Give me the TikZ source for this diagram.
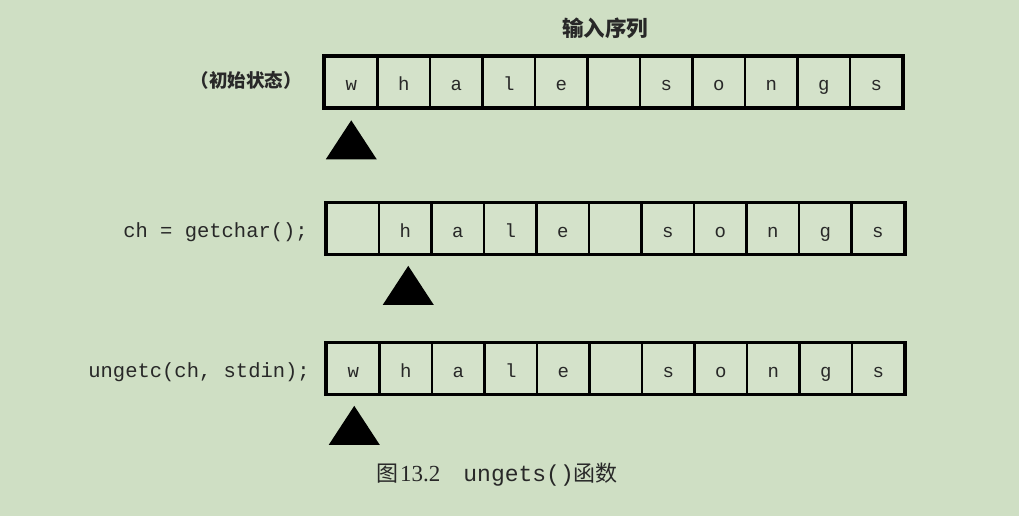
\documentclass[tikz,border=0pt]{standalone}
\usepackage{fontspec}
\setmainfont{Liberation Serif}
\setmonofont{Liberation Mono}
\newfontfamily\cjk{Noto Sans CJK SC}
\usetikzlibrary{calc}
\definecolor{bg}{RGB}{207,223,196}
\definecolor{cellbg}{RGB}{212,226,202}
\definecolor{ink}{RGB}{40,40,40}
\begin{document}
\begin{tikzpicture}[x=1pt,y=-1pt,
  cell/.style={draw=black, line width=2.2pt, fill=cellbg, minimum width=52.5pt, minimum height=50.5pt,
    inner sep=0pt, text=ink, font=\ttfamily\fontsize{19}{19}\selectfont, text height=17pt, text depth=0pt},
  frame/.style={draw=black, line width=3pt},
  code/.style={anchor=east, inner sep=0pt, text=ink, font=\ttfamily\fontsize{20.5}{20}\selectfont},
  cjklabel/.style={inner sep=0pt, text=ink, font=\cjk\bfseries\fontsize{18.5}{19}\selectfont},
  pointer/.style={fill=black}
]
\fill[bg] (0,0) rectangle (1019,516);
\useasboundingbox (0,0) rectangle (1019,516);

% title
\node[cjklabel, font=\cjk\bfseries\fontsize{21.5}{22}\selectfont] (title) at (605,28) {输入序列};

% row 1
\foreach \ch [count=\i] in {w,h,a,l,e,{},s,o,n,g,s}
  \node[cell] (a\i) at (298.75+52.5*\i, 82) {\ch};
\draw[frame] (a1.north west) rectangle (a11.south east);
\node[cjklabel, anchor=east] (lab1) at (302,80) {（初始状态）};
\coordinate (p1) at ($(a1.south)+(0,12)$);
\fill[pointer] (p1) -- ++(25.5,39) -- ++(-51,0) -- cycle;

% row 2
\foreach \ch [count=\i] in {{},h,a,l,e,{},s,o,n,g,s}
  \node[cell] (b\i) at (300.25+52.5*\i, 228.5) {\ch};
\draw[frame] (b1.north west) rectangle (b11.south east);
\node[code] (lab2) at (308,232) {ch = getchar();};
\coordinate (p2) at ($(b2.south)+(3,11)$);
\fill[pointer] (p2) -- ++(25.5,39) -- ++(-51,0) -- cycle;

% row 3
\foreach \ch [count=\i] in {w,h,a,l,e,{},s,o,n,g,s}
  \node[cell] (c\i) at (300.75+52.5*\i, 368.5) {\ch};
\draw[frame] (c1.north west) rectangle (c11.south east);
\node[code] (lab3) at (310,372) {ungetc(ch, stdin);};
\coordinate (p3) at ($(c1.south)+(1,11)$);
\fill[pointer] (p3) -- ++(25.5,39) -- ++(-51,0) -- cycle;

% caption
\node[inner sep=0pt, text=ink] (cap) at (497,475)
  {{\cjk\fontsize{22}{22}\selectfont 图}\hspace{2pt}{\fontsize{23}{22}\selectfont 13.2}\hspace{23pt}{\ttfamily\fontsize{23}{22}\selectfont ungets()}{\cjk\fontsize{22}{22}\selectfont 函数}};
\end{tikzpicture}
\end{document}
